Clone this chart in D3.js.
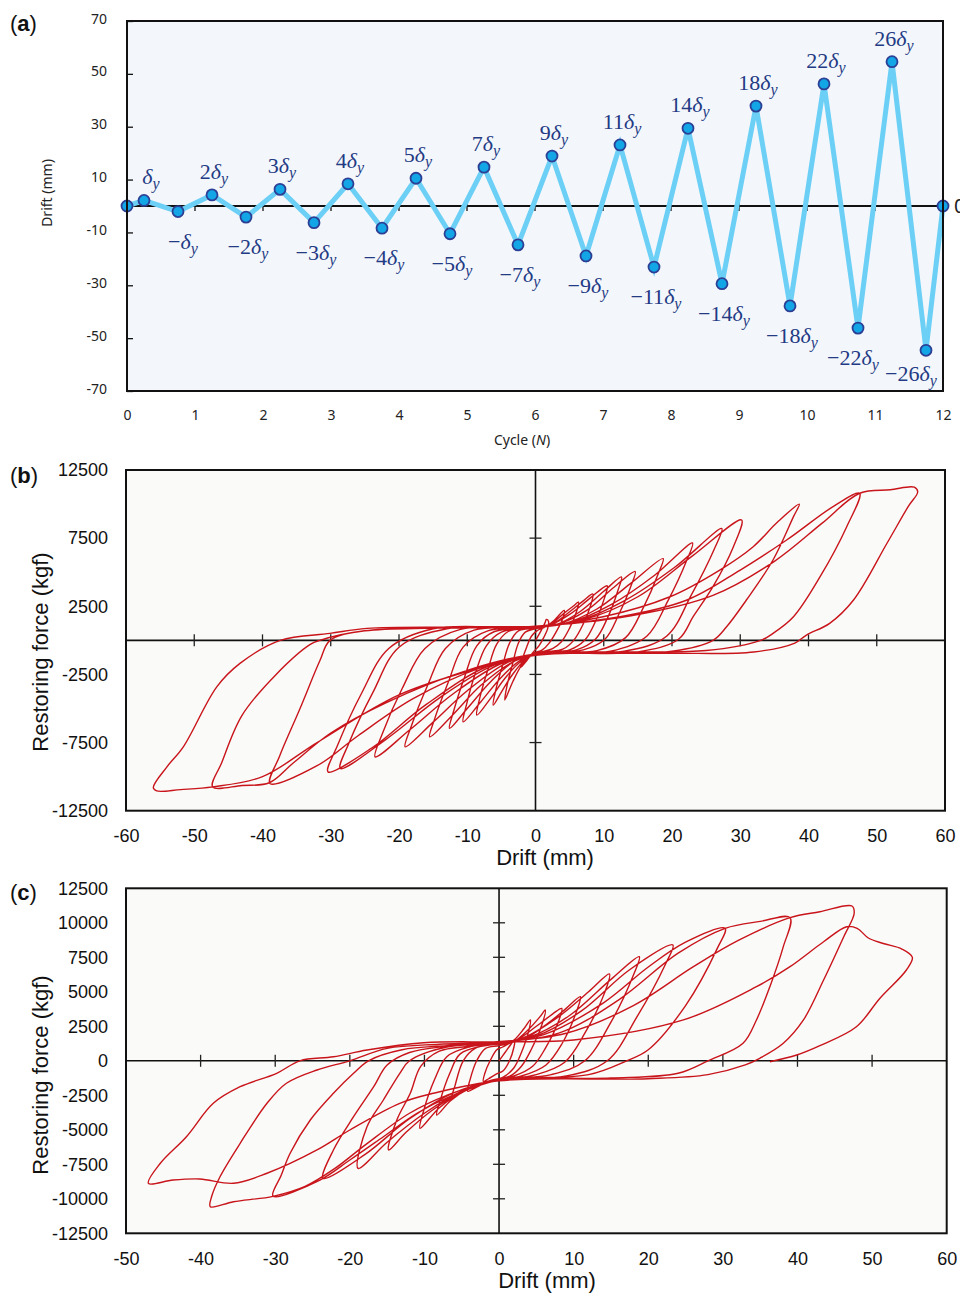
<!DOCTYPE html>
<html>
<head>
<meta charset="utf-8">
<script src="https://cdn.jsdelivr.net/npm/d3@7"></script>
<style>
  body { margin: 0; background: #fff; }
  svg { display: block; }
</style>
</head>
<body>
<svg id="chart" width="960" height="1294"></svg>
<script>
// ---------------- DATA ----------------
// (a) loading protocol
var cycleX = [0, 0.25, 0.75, 1.25, 1.75, 2.25, 2.75, 3.25, 3.75, 4.25, 4.75, 5.25, 5.75,
              6.25, 6.75, 7.25, 7.75, 8.25, 8.75, 9.25, 9.75, 10.25, 10.75, 11.25, 11.75, 12];
var driftA = [0, 2.1, -2.1, 4.2, -4.2, 6.3, -6.3, 8.4, -8.4, 10.5, -10.5, 14.7, -14.7,
              18.9, -18.9, 23.1, -23.1, 29.4, -29.4, 37.8, -37.8, 46.2, -46.2, 54.6, -54.6, 0];
var stepLabels = ["", "\u2212", "2", "\u22122", "3", "\u22123", "4", "\u22124", "5", "\u22125",
                  "7", "\u22127", "9", "\u22129", "11", "\u221211", "14", "\u221214",
                  "18", "\u221218", "22", "\u221222", "26", "\u221226"];
var xTicksA = [0, 1, 2, 3, 4, 5, 6, 7, 8, 9, 10, 11, 12];
var yTicksA = [70, 50, 30, 10, -10, -30, -50, -70];
var zeroTicksA = [1, 2, 3, 4, 5, 6, 7, 8, 9, 10, 11];

// (b) hysteresis loops, [drift mm, force kgf]
var hystB = [
  [[0,0],[0.8,700],[1.4,1300],[1.6,1540],[1.9,1400],[1.8,900],[1.2,200],[0.5,-400],[-0.4,-900],[-1.3,-1500],[-2.2,-2000],[-2.0,-1500],[-1.3,-500],[-0.6,300],[0.2,700]],
  [[0.2,700],[1.5,1000],[2.8,1500],[4.2,2200],[4.0,1600],[3.0,600],[2.0,-200],[1.0,-700],[-0.5,-1000],[-2.0,-1800],[-3.3,-3000],[-4.5,-4380],[-4.2,-3400],[-3.4,-1800],[-2.5,-200],[-1.5,600],[0,850]],
  [[0,850],[2,1100],[4.2,2000],[5.5,2500],[6.3,2800],[6.0,2100],[5.0,900],[3.8,-100],[2.5,-600],[0.5,-900],[-1.5,-1400],[-3.5,-2600],[-5.0,-3800],[-6.2,-4750],[-5.8,-3600],[-4.8,-1800],[-3.8,-200],[-2.5,700],[0,900]],
  [[0,900],[2.5,1200],[5,2100],[7,2900],[8.4,3400],[8.1,2600],[7,1200],[5.6,0],[4,-650],[1,-900],[-2,-1500],[-4.5,-2800],[-6.5,-4200],[-8.6,-5490],[-8.2,-4300],[-7,-2200],[-5.7,-300],[-4,650],[-1,900]],
  [[-1,900],[2,1100],[5,1900],[8,3100],[10.5,4000],[10.1,3100],[8.8,1400],[7.2,0],[5,-700],[1,-900],[-2,-1400],[-5,-2700],[-8,-4500],[-10.6,-5980],[-10.1,-4700],[-8.8,-2400],[-7.2,-400],[-5,600],[-1,900]],
  [[-1,900],[3,1150],[6.5,2100],[10,3600],[12.6,4650],[12.1,3700],[10.6,1700],[8.8,100],[6,-700],[1,-950],[-3,-1500],[-6.5,-3000],[-10,-5000],[-12.6,-6460],[-12.0,-5200],[-10.4,-2700],[-8.6,-400],[-6,650],[-1,900]],
  [[-1,900],[3,1150],[7.5,2200],[11.5,3900],[14.6,5050],[14.0,4000],[12.2,1900],[10.2,100],[7,-700],[1,-950],[-3,-1500],[-8,-3300],[-12,-5400],[-15.5,-7080],[-14.8,-5800],[-12.8,-3100],[-10.6,-500],[-7,700],[-1,920]],
  [[-1,920],[4,1200],[9,2300],[14,4200],[18.7,6000],[18.0,4900],[15.8,2400],[13.2,200],[9,-750],[1,-950],[-4,-1600],[-10,-3700],[-15,-6000],[-19.1,-7810],[-18.2,-6300],[-15.8,-3300],[-13.2,-600],[-9,750],[-1,950]],
  [[-1,950],[5,1300],[11,2600],[17.5,4800],[23,7150],[22.1,5800],[19.4,2900],[16.3,300],[11,-800],[1,-1000],[-5,-1700],[-12,-3900],[-18.5,-6600],[-23.5,-8550],[-22.4,-6800],[-19.5,-3500],[-16.2,-600],[-11,800],[-1,950]],
  [[-1,950],[6,1400],[13,2900],[20.5,5400],[27.3,8200],[26.2,6700],[22.8,3300],[19.2,300],[13,-800],[1,-1000],[-6,-1800],[-14,-4200],[-22,-7300],[-28.6,-9400],[-27.3,-7500],[-23.8,-3800],[-20,-500],[-13,850],[-1,980]],
  [[-1,980],[7,1500],[15,3200],[23,6200],[30.2,8835],[29,6874],[26,3936],[23.1,1733],[21,100],[15,-850],[1,-1000],[-7,-1900],[-16,-4700],[-24,-7900],[-30.4,-9650],[-29,-7700],[-25.5,-3900],[-21.5,-600],[-15,850],[-1,980]],
  [[-1,980],[9.9,1733],[19.7,3200],[27,5160],[31.9,6874],[35.5,8700],[38.65,9988],[37.8,9077],[34.8,5897],[30.9,2960],[28,1000],[26,0],[20,-800],[10,-900],[0,-1000],[-8,-2000],[-18,-4300],[-26,-7000],[-32,-9200],[-38.9,-10500],[-37.5,-8500],[-34.5,-5000],[-31.6,-1500],[-30.1,0],[-25,700],[-15,900],[-1,1000]],
  [[-1,1000],[12.4,1733],[22.2,2960],[30,5160],[36.8,7366],[43.6,9812],[47.5,10795],[45.6,8340],[41.7,4670],[37.8,1733],[34.8,514],[33,0],[25,-750],[12,-850],[0,-1000],[-10,-2200],[-22,-4600],[-30,-6800],[-35.5,-9000],[-39,-10450],[-43,-10650],[-47.3,-10750],[-46,-9000],[-43,-5500],[-38,-2500],[-33,-300],[-31.6,0],[-25,700],[-15,900],[-1,1000]],
  [[-1,1000],[14,1800],[26,3300],[35,5800],[42,8600],[47.5,10795],[52,11050],[55.5,11240],[56,10900],[54.6,9812],[51.5,7124],[46.6,2960],[43.1,1249],[39.7,389],[38,-200],[32,-850],[20,-950],[5,-950],[0,-1100],[-8,-2000],[-20,-4000],[-32,-7500],[-40,-10000],[-47.3,-10750],[-52,-10950],[-55.5,-11050],[-56,-10800],[-54,-9280],[-51.6,-7810],[-46.7,-3410],[-43.3,-1690],[-37.4,0],[-30.1,510],[-24.7,880],[-12.5,980],[0,1000]]
];
var xTicksB = [-60, -50, -40, -30, -20, -10, 0, 10, 20, 30, 40, 50, 60];
var yTicksB = [12500, 7500, 2500, -2500, -7500, -12500];
var axisMarksXB = [-50, -40, -30, -20, -10, 10, 20, 30, 40, 50];
var axisMarksYB = [7500, 2500, -2500, -7500];

// (c) hysteresis loops, [drift mm, force kgf]
var hystC = [
  [[0,0],[0.8,600],[1.6,1200],[2.1,1500],[2.0,1000],[1.4,0],[0.6,-700],[-0.5,-1000],[-1.4,-1300],[-2.1,-1500],[-1.9,-900],[-1.2,0],[-0.3,800],[0.5,1000]],
  [[0.5,1000],[2,1500],[3.3,2300],[4.2,2960],[4.0,2200],[3.0,600],[2.0,-500],[0.5,-1200],[-1.5,-1500],[-3,-1900],[-4.2,-2200],[-3.9,-1400],[-3.0,0],[-1.8,900],[0,1100]],
  [[0,1100],[2,1400],[4,2300],[5.5,3200],[6.2,3680],[5.8,2700],[4.3,800],[3,-400],[1.5,-1100],[-1,-1400],[-3,-1800],[-5,-2300],[-6.3,-2700],[-5.9,-1800],[-4.8,0],[-3.2,900],[-1,1150]],
  [[-1,1150],[2,1400],[5,2500],[7.2,3400],[8.4,3800],[8,2900],[6.2,900],[4.5,-400],[2,-1100],[-1,-1400],[-4,-2000],[-6.5,-2900],[-8.35,-3930],[-7.9,-2900],[-6.6,-900],[-5.2,500],[-2,1100]],
  [[-2,1100],[3,1500],[6.5,2700],[9,3800],[10.9,4645],[10.4,3600],[8.4,1200],[6.3,-300],[3,-1100],[-1,-1450],[-4.5,-2100],[-8,-3400],[-10.6,-4890],[-10.1,-3600],[-8.6,-1300],[-7,300],[-4,1000],[-1,1200]],
  [[-1,1200],[3,1600],[8,3200],[12,5000],[14.8,6290],[14.2,5000],[11.5,2000],[8.8,-100],[5,-1000],[0,-1400],[-4.5,-2100],[-9,-3600],[-12.5,-5200],[-14.8,-6460],[-13.7,-4290],[-11.9,-2355],[-10.5,-400],[-8,700],[-4,1050],[-1,1250]],
  [[-1,1250],[4,1700],[9.5,3300],[15,5900],[18.8,7545],[18.0,6200],[15,2800],[11.5,0],[7,-1000],[0,-1400],[-5,-2200],[-10,-3800],[-15,-5900],[-18.9,-7790],[-17.7,-4775],[-15.5,-2840],[-13.3,-906],[-12,0],[-7,1000],[-1,1250]],
  [[-1,1250],[5,1800],[11,3600],[17.5,6600],[23.3,8390],[22.3,7000],[18.5,3200],[14.5,0],[9,-1100],[0,-1400],[-6,-2300],[-12,-4200],[-18,-6800],[-23.6,-8514],[-22.2,-6460],[-19.5,-4050],[-16.8,-1877],[-15,-300],[-12,600],[-7,1050],[-1,1300]],
  [[-1,1300],[6,1900],[14,4200],[20,6800],[25,8600],[30.3,9600],[29.3,8200],[25,4000],[20,800],[17.1,0],[12,-1000],[0,-1400],[-6.6,-2600],[-11,-3800],[-15.5,-5500],[-20,-7190],[-24,-8640],[-30.3,-9800],[-29.2,-8300],[-28,-6700],[-25.3,-4290],[-22.2,-2355],[-19.5,-906],[-17.5,0],[-13,800],[-7,1100],[-1,1300]],
  [[-1,1300],[8,2000],[16,4400],[24,7800],[30.3,9600],[35,10100],[39,10370],[38.1,8270],[36.3,5370],[34.5,2960],[32.7,1270],[28,0],[24,-900],[15,-1250],[0,-1400],[-7,-2500],[-12,-3800],[-17.7,-6000],[-22,-7800],[-26,-9100],[-30.3,-9820],[-35.6,-10210],[-38.7,-10570],[-38.5,-9800],[-37.4,-8400],[-34.7,-5980],[-31.1,-3080],[-28.5,-1630],[-24.4,-667],[-20,0],[-15,900],[-8,1200],[-1,1350]],
  [[-1,1350],[9,2000],[18,4000],[26,6800],[32,8700],[39,10370],[43,10800],[47.3,11217],[47.6,10690],[46.2,8993],[43.5,5855],[40.8,2960],[38.1,1270],[35,200],[33,-300],[28,-1000],[20,-1300],[0,-1450],[-8.8,-2355],[-13.3,-3080],[-20,-5014],[-24.4,-6460],[-31.1,-8150],[-35.6,-8876],[-40.1,-8565],[-43.7,-8640],[-47,-8876],[-45.4,-7427],[-41.9,-5500],[-38.3,-3080],[-34.7,-1877],[-29.8,-906],[-26.7,0],[-22.2,290],[-17.7,780],[-10.1,1310],[0,1380]],
  [[0,1380],[10,1507],[24.7,2960],[34.5,5370],[39,6820],[43.5,8630],[46.6,9717],[48,9600],[49.5,8900],[51.5,8500],[54,8100],[55.4,7500],[54.6,6580],[51,4500],[47.9,2470],[43,1100],[39.9,420],[36.3,-65]]
];
var xTicksC = [-50, -40, -30, -20, -10, 0, 10, 20, 30, 40, 50, 60];
var yTicksC = [12500, 10000, 7500, 5000, 2500, 0, -2500, -5000, -7500, -10000, -12500];
var axisMarksXC = [-40, -30, -20, -10, 10, 20, 30, 40, 50];
var axisMarksYC = [10000, 7500, 5000, 2500, -2500, -5000, -7500, -10000];

// ---------------- DRAWING ----------------
var svg = d3.select("#chart");
var sansFont = "Liberation Sans, Arial, sans-serif";

// ===== (a) =====
var ax = d3.scaleLinear().domain([0, 12]).range([127, 943]);
var ay = d3.scaleLinear().domain([-70, 70]).range([391, 21]);
var ga = svg.append("g");

ga.append("rect")
    .attr("x", ax(0)).attr("y", ay(70))
    .attr("width", ax(12) - ax(0)).attr("height", ay(-70) - ay(70))
    .attr("fill", "#f3f7fb");

ga.append("g")
    .attr("transform", "translate(" + ax(0) + ",0)")
    .call(d3.axisLeft(ay).tickValues(yTicksA).tickSize(-6).tickPadding(20).tickFormat(String))
    .call(function(g) { g.select(".domain").remove(); })
    .call(function(g) {
      g.selectAll("line").attr("stroke", "#111").attr("stroke-width", 1.3);
      g.selectAll("text").attr("font-family", "Noto Sans, sans-serif").attr("font-size", 14)
       .attr("fill", "#222").attr("dy", "0.15em");
    });

ga.append("g")
    .attr("transform", "translate(0," + ay(-70) + ")")
    .call(d3.axisBottom(ax).tickValues(xTicksA).tickSize(0).tickPadding(19).tickFormat(String))
    .call(function(g) { g.select(".domain").remove(); })
    .call(function(g) {
      g.selectAll("text").attr("font-family", "Noto Sans, sans-serif").attr("font-size", 14).attr("fill", "#222");
    });

// zero line with cycle marks
ga.append("line")
    .attr("x1", ax(0)).attr("x2", ax(12)).attr("y1", ay(0)).attr("y2", ay(0))
    .attr("stroke", "#111").attr("stroke-width", 2);
ga.selectAll(".zt").data(zeroTicksA).enter().append("line")
    .attr("x1", function(d) { return ax(d); }).attr("x2", function(d) { return ax(d); })
    .attr("y1", ay(0) - 5).attr("y2", ay(0) + 5)
    .attr("stroke", "#111").attr("stroke-width", 1.3);

// protocol line
ga.append("path")
    .datum(driftA)
    .attr("d", d3.line()
        .x(function(d, i) { return ax(cycleX[i]); })
        .y(function(d) { return ay(d); }))
    .attr("fill", "none").attr("stroke", "#6ccff5").attr("stroke-width", 5)
    .attr("stroke-linejoin", "miter");

ga.selectAll(".pt").data(driftA).enter().append("circle")
    .attr("cx", function(d, i) { return ax(cycleX[i]); })
    .attr("cy", function(d) { return ay(d); })
    .attr("r", 5.5)
    .attr("fill", "#12a6e6").attr("stroke", "#2c3f95").attr("stroke-width", 1.8);

// delta labels
var labG = ga.append("g").attr("font-family", "Liberation Serif, Times New Roman, serif")
    .attr("font-size", 22).attr("fill", "#233a84");
stepLabels.forEach(function(s, k) {
  var i = k + 1;
  var up = driftA[i] > 0;
  var px = ax(cycleX[i]), py = ay(driftA[i]);
  var dx = 2, dy = up ? -16 : 37;
  if (k === 0) dx = 7;
  if (k === 1) dx = 5;
  if (k === 21) dx = -5;
  if (k === 23) { dx = -15; dy = 31; }
  var t = labG.append("text").attr("text-anchor", "middle")
      .attr("x", px + dx).attr("y", py + dy);
  if (s) t.append("tspan").text(s);
  t.append("tspan").attr("font-style", "italic").text("\u03b4");
  t.append("tspan").attr("font-style", "italic").attr("font-size", 16).attr("dy", 5).text("y");
});

ga.append("text")
    .attr("x", 954).attr("y", ay(0) + 7)
    .attr("font-family", "Noto Sans, sans-serif").attr("font-size", 20).attr("fill", "#222")
    .text("0");

ga.append("rect")
    .attr("x", ax(0)).attr("y", ay(70))
    .attr("width", ax(12) - ax(0)).attr("height", ay(-70) - ay(70))
    .attr("fill", "none").attr("stroke", "#111").attr("stroke-width", 2);

ga.append("text")
    .attr("transform", "translate(52,193) rotate(-90)")
    .attr("text-anchor", "middle")
    .attr("font-family", "Noto Sans, sans-serif").attr("font-size", 14).attr("fill", "#222")
    .text("Drift (mm)");

var cyc = ga.append("text")
    .attr("x", 522).attr("y", 445).attr("text-anchor", "middle")
    .attr("font-family", "Noto Sans, sans-serif").attr("font-size", 14).attr("fill", "#222");
cyc.append("tspan").text("Cycle (");
cyc.append("tspan").attr("font-style", "italic").text("N");
cyc.append("tspan").text(")");

function panelTag(letter, y) {
  var t = svg.append("text").attr("x", 10).attr("y", y)
      .attr("font-family", sansFont).attr("font-size", 22).attr("fill", "#111");
  t.append("tspan").text("(");
  t.append("tspan").attr("font-weight", "bold").text(letter);
  t.append("tspan").text(")");
}
panelTag("a", 31);

// ===== (b) and (c) hysteresis panels =====
function hysteresisPanel(o) {
  var x = d3.scaleLinear().domain(o.xDomain).range(o.xRange);
  var y = d3.scaleLinear().domain(o.yDomain).range(o.yRange);
  var g = svg.append("g");
  var x0 = o.xRange[0], x1 = o.xRange[1], y0 = o.yRange[1], y1 = o.yRange[0];

  g.append("rect").attr("x", x0).attr("y", y0).attr("width", x1 - x0).attr("height", y1 - y0)
      .attr("fill", "#fafaf8");

  g.append("g")
      .attr("transform", "translate(" + x0 + ",0)")
      .call(d3.axisLeft(y).tickValues(o.yTicks).tickSize(0).tickPadding(18).tickFormat(String))
      .call(function(s) { s.select(".domain").remove(); })
      .call(function(s) {
        s.selectAll("text").attr("font-family", sansFont).attr("font-size", 18).attr("fill", "#111");
      });
  g.append("g")
      .attr("transform", "translate(0," + y1 + ")")
      .call(d3.axisBottom(x).tickValues(o.xTicks).tickSize(0).tickPadding(19).tickFormat(String))
      .call(function(s) { s.select(".domain").remove(); })
      .call(function(s) {
        s.selectAll("text").attr("font-family", sansFont).attr("font-size", 18).attr("fill", "#111");
      });

  // zero axes
  g.append("line").attr("x1", x0).attr("x2", x1).attr("y1", y(0)).attr("y2", y(0))
      .attr("stroke", "#111").attr("stroke-width", 1.6);
  g.append("line").attr("x1", x(0)).attr("x2", x(0)).attr("y1", y0).attr("y2", y1)
      .attr("stroke", "#111").attr("stroke-width", 1.6);
  g.selectAll(".mx").data(o.marksX).enter().append("line")
      .attr("x1", function(d) { return x(d); }).attr("x2", function(d) { return x(d); })
      .attr("y1", y(0) - 6).attr("y2", y(0) + 6)
      .attr("stroke", "#222").attr("stroke-width", 1.3);
  g.selectAll(".my").data(o.marksY).enter().append("line")
      .attr("y1", function(d) { return y(d); }).attr("y2", function(d) { return y(d); })
      .attr("x1", x(0) - 6).attr("x2", x(0) + 6)
      .attr("stroke", "#222").attr("stroke-width", 1.3);

  // one continuous load history
  var pts = [];
  o.loops.forEach(function(loop, k) {
    loop.forEach(function(p, j) { if (k === 0 || j > 0) pts.push(p); });
  });
  g.append("path")
      .datum(pts)
      .attr("d", d3.line()
          .x(function(d) { return x(d[0]); })
          .y(function(d) { return y(d[1]); })
          .curve(d3.curveCatmullRom.alpha(0.5)))
      .attr("fill", "none").attr("stroke", "#c8141a").attr("stroke-width", 1.4)
      .attr("stroke-linejoin", "round");

  g.append("rect").attr("x", x0).attr("y", y0).attr("width", x1 - x0).attr("height", y1 - y0)
      .attr("fill", "none").attr("stroke", "#111").attr("stroke-width", 2);

  g.append("text")
      .attr("transform", "translate(48," + o.yTitleY + ") rotate(-90)")
      .attr("text-anchor", "middle")
      .attr("font-family", sansFont).attr("font-size", 22).attr("fill", "#111")
      .text("Restoring force (kgf)");
  g.append("text")
      .attr("x", o.xTitleX).attr("y", o.xTitleY).attr("text-anchor", "middle")
      .attr("font-family", sansFont).attr("font-size", 22).attr("fill", "#111")
      .text("Drift (mm)");
}

hysteresisPanel({
  xDomain: [-60, 60], xRange: [126, 945],
  yDomain: [-12500, 12500], yRange: [810.7, 470],
  xTicks: xTicksB, yTicks: yTicksB, marksX: axisMarksXB, marksY: axisMarksYB,
  loops: hystB, yTitleY: 652, xTitleX: 545, xTitleY: 865
});
panelTag("b", 483);

hysteresisPanel({
  xDomain: [-50, 60], xRange: [126, 946.7],
  yDomain: [-12500, 12500], yRange: [1233.3, 888.3],
  xTicks: xTicksC, yTicks: yTicksC, marksX: axisMarksXC, marksY: axisMarksYC,
  loops: hystC, yTitleY: 1075, xTitleX: 547, xTitleY: 1288
});
panelTag("c", 900);
</script>
</body>
</html>
